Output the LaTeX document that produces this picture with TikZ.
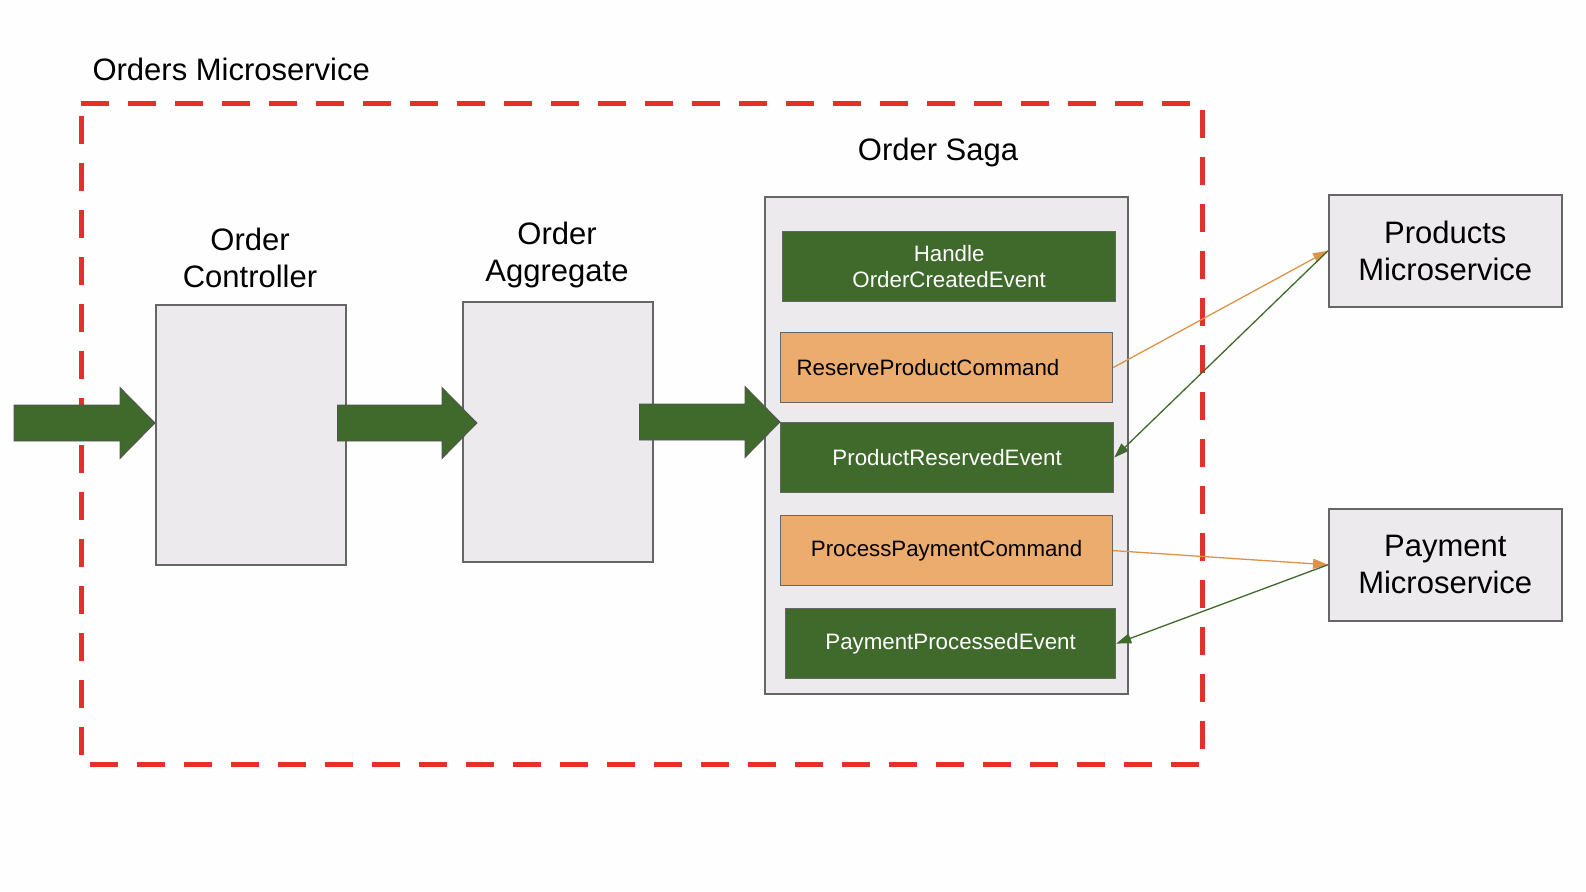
\documentclass[tikz,border=0pt]{standalone}
\usepackage{fontspec}
\setmainfont{Liberation Sans}
\usetikzlibrary{arrows.meta,calc}
\definecolor{sagagreen}{HTML}{3F6A2C}
\definecolor{cmdorange}{HTML}{EBAC6D}
\definecolor{linkorange}{HTML}{DE9448}
\definecolor{boxgray}{HTML}{ECEAED}
\definecolor{edgegray}{HTML}{666666}
\definecolor{dashred}{HTML}{E2302A}
\newcommand{\fatarrow}[2]{%
  \filldraw[fatarrowstyle] let \p1=(#1), \p2=(#2) in
    (\x1,\y2+18pt) -- (\x2-35pt,\y2+18pt) -- (\x2-35pt,\y2+35.5pt) -- (\x2,\y2)
    -- (\x2-35pt,\y2-35.5pt) -- (\x2-35pt,\y2-18pt) -- (\x1,\y2-18pt) -- cycle;}
\begin{document}
\begin{tikzpicture}[x=1pt,y=-1pt,
  bigfont/.style={font=\fontsize{31}{37}\selectfont},
  smallfont/.style={font=\fontsize{22.3}{26}\selectfont},
  grayblock/.style={draw=edgegray,line width=1.5pt,fill=boxgray,anchor=north west,inner sep=0pt,align=center,bigfont},
  sagabox/.style={grayblock,line width=2pt},
  event/.style={draw=edgegray,line width=1.2pt,fill=sagagreen,text=white,anchor=north west,inner sep=0pt,align=center,minimum height=70pt,smallfont},
  command/.style={event,fill=cmdorange,text=black},
  msborder/.style={draw=dashred,line width=5pt,dash pattern=on 28pt off 19pt},
  fatarrowstyle/.style={fill=sagagreen,draw=edgegray!80!black,line width=0.8pt},
  cmdlink/.style={draw=linkorange,line width=1.3pt,-{Triangle[length=15pt,width=10pt]}},
  evtlink/.style={draw=sagagreen,line width=1.3pt,-{Triangle[length=15pt,width=10pt]}}]
\fill[white!98!boxgray] (0,0) rectangle (1586,891);
\node[anchor=north west,minimum width=1121pt,minimum height=661pt,inner sep=0pt] (ordersms) at (81,103) {};
\draw[msborder] (ordersms.north west) -| (ordersms.south east) -| cycle;
\node[bigfont,anchor=west] (orderslabel) at (89,69) {Orders Microservice};
\node[grayblock,minimum width=190pt,minimum height=260pt] (ctrl) at (155,304) {};
\node[bigfont,align=center] (ctrllabel) at (250,258) {Order\\Controller};
\node[grayblock,minimum width=190pt,minimum height=260pt] (agg) at (462,301) {};
\node[bigfont,align=center] (agglabel) at (557,255) {Order\\Aggregate};
\node[sagabox,minimum width=363pt,minimum height=497pt] (saga) at (764,196) {};
\node[bigfont] (sagalabel) at (938,152) {Order Saga};
\node[event,minimum width=333pt] (handle) at (782,231) {Handle\\OrderCreatedEvent};
\node[command,minimum width=332pt,text width=300pt,inner xsep=16pt,align=left] (reserve) at (780,332) {ReserveProductCommand};
\node[event,minimum width=333pt] (prodres) at (780,422) {ProductReservedEvent};
\node[command,minimum width=332pt] (procpay) at (780,515) {ProcessPaymentCommand};
\node[event,minimum width=330pt] (payproc) at (785,608) {PaymentProcessedEvent};
\node[grayblock,minimum width=233pt,minimum height=112pt] (products) at (1328,194) {Products\\Microservice};
\node[grayblock,minimum width=233pt,minimum height=112pt] (payment) at (1328,508) {Payment\\Microservice};
\coordinate (in) at (14,423);
\fatarrow{in}{ctrl.west |- in}
\fatarrow{$(ctrl.east |- in)+(-9,0)$}{$(agg.west |- in)+(15,0)$}
\fatarrow{$(agg.east |- in)+(-14,0)$}{prodres.north west}
\draw[cmdlink] (reserve.east) -- (products.west);
\draw[evtlink] (products.west) -- (prodres.east);
\draw[cmdlink] (procpay.east) -- (payment.west);
\draw[evtlink] (payment.west) -- (payproc.east);
\end{tikzpicture}
\end{document}
